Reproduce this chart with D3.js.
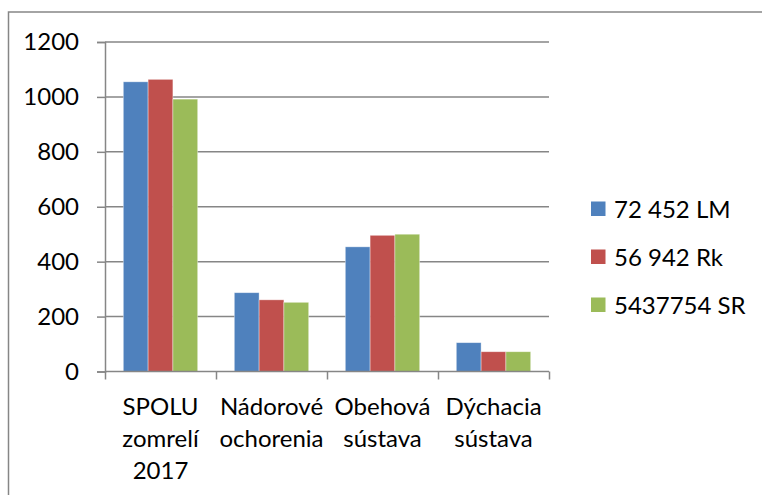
<!DOCTYPE html>
<html>
<head>
<meta charset="utf-8">
<script src="https://cdn.jsdelivr.net/npm/d3@7"></script>
<style>
  html, body { margin: 0; padding: 0; background: #fff; }
  svg { display: block; }
  text { font-family: Lato, "Open Sans", sans-serif; fill: #000; }
</style>
</head>
<body>
<svg id="chart" width="762" height="495"></svg>
<script>
const categories = [
  ["SPOLU", "zomrelí", "2017"],
  ["Nádorové", "ochorenia"],
  ["Obehová", "sústava"],
  ["Dýchacia", "sústava"]
];
const seriesNames = ["72 452 LM", "56 942 Rk", "5437754 SR"];
const seriesColors = ["#4F81BD", "#C0504D", "#9BBB59"];
const valuesLM = [1055, 287, 454, 105];
const valuesRk = [1064, 261, 496, 72];
const valuesSR = [992, 252, 500, 72];
const yTicks = [0, 200, 400, 600, 800, 1000, 1200];

const series = [valuesLM, valuesRk, valuesSR];
const svg = d3.select("#chart");
const gridColor = "#868686";
const fontSize = 24;

// outer border (extends past right and bottom edges)
svg.append("rect")
  .attr("x", 8.5).attr("y", 12)
  .attr("width", 800).attr("height", 600)
  .attr("fill", "none").attr("stroke", gridColor).attr("stroke-width", 1.5);

const x0 = d3.scaleBand().domain(d3.range(categories.length)).range([105, 549]).paddingInner(0).paddingOuter(0);
const x1 = d3.scaleBand().domain(d3.range(series.length)).range([0, x0.bandwidth()]).paddingInner(0).paddingOuter(0.738);
const y = d3.scaleLinear().domain([0, 1200]).range([371.5, 42]);

// gridlines
svg.append("g").selectAll("line").data(yTicks.filter(t => t > 0)).join("line")
  .attr("x1", 105).attr("x2", 549)
  .attr("y1", d => y(d)).attr("y2", d => y(d))
  .attr("stroke", gridColor).attr("stroke-width", 1.5);

// y axis
const yAxis = d3.axisLeft(y).tickValues(yTicks).tickSize(8).tickPadding(18).tickFormat(d3.format("d"));
const gy = svg.append("g").attr("transform", "translate(105,0)").call(yAxis);
gy.select(".domain").attr("stroke", gridColor).attr("stroke-width", 1.5);
gy.selectAll(".tick line").attr("stroke", gridColor).attr("stroke-width", 1.5);
gy.selectAll(".tick text").style("font-size", fontSize + "px").style("font-family", "Lato, sans-serif").attr("fill", "#000");

// bars
const groups = svg.append("g").selectAll("g").data(categories.map((c, i) => i)).join("g")
  .attr("transform", i => `translate(${x0(i)},0)`);
groups.selectAll("rect").data(i => series.map((s, k) => ({ k, v: s[i] }))).join("rect")
  .attr("x", d => x1(d.k))
  .attr("width", x1.bandwidth())
  .attr("y", d => y(d.v))
  .attr("height", d => y(0) - y(d.v))
  .attr("fill", d => seriesColors[d.k])
  .attr("stroke", "#ffffff").attr("stroke-opacity", 0.5).attr("stroke-width", 0.75);

// x axis
const xAxisScale = d3.scaleLinear().domain([0, categories.length]).range([105, 549]);
const gx = svg.append("g").attr("transform", `translate(0,${y(0)})`)
  .call(d3.axisBottom(xAxisScale).tickValues(d3.range(categories.length + 1)).tickSize(8).tickFormat(""));
gx.select(".domain").attr("stroke", gridColor).attr("stroke-width", 1.5).attr("d", "M105,0H549");
gx.selectAll(".tick line").attr("stroke", gridColor).attr("stroke-width", 1.5);

// category labels
const labels = svg.append("g").selectAll("text").data(categories).join("text")
  .attr("x", (d, i) => x0(i) + x0.bandwidth() / 2)
  .attr("y", 415)
  .attr("text-anchor", "middle")
  .style("font-size", fontSize + "px");
labels.selectAll("tspan").data(d => d).join("tspan")
  .attr("x", function () { return d3.select(this.parentNode).attr("x"); })
  .attr("dy", (d, j) => j === 0 ? 0 : 32)
  .text(d => d);

// legend
const legend = svg.append("g").selectAll("g").data(seriesNames).join("g")
  .attr("transform", (d, i) => `translate(591,${209 + i * 48})`);
legend.append("rect").attr("x", 0).attr("y", -7.5).attr("width", 14.5).attr("height", 14.5)
  .attr("fill", (d, i) => seriesColors[i]);
legend.append("text").attr("x", 23).attr("y", 8.5).style("font-size", fontSize + "px").text(d => d);
</script>
</body>
</html>
